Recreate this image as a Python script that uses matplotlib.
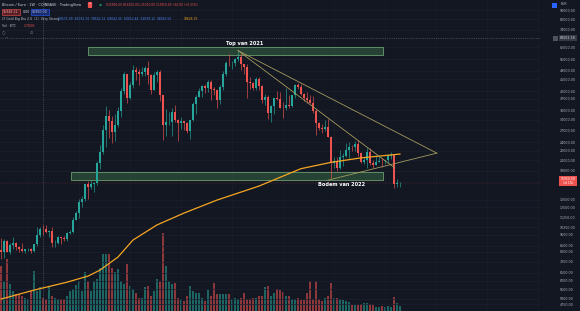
import matplotlib
matplotlib.use('Agg')
import matplotlib.pyplot as plt
from matplotlib.patches import Rectangle
from matplotlib.ticker import NullLocator
import numpy as np

BG = '#131722'
UP = '#26a69a'
DOWN = '#ef5350'

# weekly BTC/EUR candles, week of 4 May 2020 .. week of 21 Nov 2022
first_open = 8160
closes = [8000, 8880, 8000, 8590, 8710, 8370, 8230, 8040, 8210, 8230,
          8070, 8630, 9440, 10080, 10040, 9800, 9840, 8710, 8750, 9250,
          9180, 9120, 9640, 9750, 11040, 11790, 13120, 13600, 15710, 15270,
          15830, 15930, 19510, 21640, 27050, 31310, 29750, 26690, 28350, 32670,
          40170, 47520, 37270, 42670, 49580, 48400, 47290, 48310, 50420, 46920,
          40500, 47110, 48180, 38350, 28440, 29260, 29340, 32310, 29830, 29160,
          29660, 28980, 26780, 30000, 35290, 37710, 40170, 42140, 41360, 43900,
          40930, 40430, 36580, 41550, 47330, 53100, 52840, 52840, 55170, 56000,
          52210, 50710, 43720, 43270, 41330, 44960, 42210, 36750, 37810, 32120,
          34380, 37190, 37020, 33890, 33660, 34910, 34360, 38360, 42550, 41800,
          38720, 37410, 36570, 35570, 32670, 28940, 27740, 27480, 27940, 25330,
          19520, 19810, 18560, 20590, 20800, 22160, 22840, 22750, 23590, 21500,
          19600, 20000, 21800, 19400, 19180, 19690, 19800, 19790, 20000, 20810,
          21110, 15830, 15900, 15950]
highs = [9220, 9130, 9040, 8730, 9310, 8840, 8500, 8750, 8260, 8360,
         8300, 8700, 10260, 10240, 10510, 10460, 9920, 10240, 8980, 9410,
         9320, 9360, 9750, 9920, 11310, 12050, 13530, 13970, 15800, 16300,
         16450, 16050, 19840, 23280, 28520, 34340, 33060, 31240, 31820, 34080,
         41070, 48260, 47520, 43830, 51930, 50920, 49660, 51020, 51430, 54000,
         47520, 48350, 49170, 49260, 38500, 33520, 32380, 33800, 34710, 30250,
         30760, 29750, 29300, 30000, 35800, 38390, 41110, 42480, 42800, 44750,
         44830, 41710, 40430, 42410, 48790, 54220, 57760, 54310, 55430, 60000,
         58670, 52480, 52300, 45930, 43810, 45930, 46110, 42600, 39040, 38500,
         34730, 37370, 40180, 39650, 35710, 41270, 38640, 38450, 42820, 43420,
         43120, 39260, 39720, 38490, 38100, 33270, 29340, 28690, 30090, 30100,
         25620, 20660, 20670, 22180, 21600, 23730, 24120, 23240, 24370, 24400,
         21800, 20710, 22700, 22700, 20100, 20820, 20920, 20520, 20100, 21210,
         21720, 21200, 16600, 16150]
lows = [7430, 7520, 7980, 7850, 8270, 8140, 8000, 7960, 7880, 8050,
        7940, 7960, 8460, 9320, 9490, 9660, 9330, 8390, 8390, 8640,
        8680, 8890, 8920, 9530, 9660, 11030, 11190, 12540, 13280, 13610,
        15040, 14550, 15570, 18360, 21390, 22950, 25120, 23880, 24210, 27830,
        30910, 38840, 35540, 36800, 41430, 44790, 42710, 46530, 46640, 43000,
        38930, 40330, 43800, 36200, 24590, 25490, 28500, 25620, 29240, 24200,
        27480, 27200, 26270, 24830, 29580, 31860, 37520, 37860, 39320, 39490,
        36440, 38290, 33850, 35170, 40520, 46470, 51380, 49830, 51210, 54170,
        49200, 47350, 37170, 40710, 40350, 40270, 40440, 35610, 34740, 30180,
        29380, 31840, 36580, 33630, 30630, 33000, 33820, 34180, 37180, 40720,
        38350, 36300, 35650, 35470, 32100, 25670, 26980, 26170, 26800, 25330,
        16760, 18580, 17980, 18300, 18900, 20590, 20390, 22060, 22040, 20800,
        19500, 19300, 18500, 19000, 18470, 19180, 19590, 18760, 19290, 19390,
        20250, 15150, 15340, 15300]
# weekly volume, thousand BTC
volume = [15.0, 10.0, 17.2, 8.9, 6.7, 5.6, 5.6, 5.0, 4.4, 3.9,
          6.7, 13.3, 6.7, 7.8, 4.4, 4.0, 8.3, 5.0, 4.4, 3.9,
          3.9, 3.9, 5.0, 6.7, 7.2, 8.5, 10.0, 6.7, 12.8, 10.0,
          6.7, 10.0, 10.6, 14.4, 18.9, 19.0, 18.9, 14.4, 12.8, 13.9,
          10.0, 9.0, 15.6, 8.3, 7.2, 6.0, 4.4, 4.4, 7.8, 8.3,
          5.0, 6.7, 10.6, 10.0, 25.9, 15.0, 10.0, 8.9, 9.4, 4.4,
          3.9, 3.3, 5.0, 8.3, 6.7, 6.1, 6.1, 4.4, 3.3, 6.9,
          5.0, 9.4, 5.6, 5.6, 5.6, 5.6, 5.6, 3.9, 4.2, 3.9,
          4.4, 5.8, 3.9, 3.9, 4.4, 4.4, 5.0, 5.0, 8.0, 8.3,
          5.0, 5.8, 7.2, 6.9, 6.4, 5.0, 5.0, 3.9, 3.9, 4.2,
          3.6, 3.8, 5.9, 10.0, 3.9, 10.0, 3.9, 3.3, 4.4, 5.0,
          9.4, 4.4, 4.2, 3.9, 3.6, 3.3, 3.0, 2.0, 2.0, 2.0,
          2.2, 2.7, 2.8, 2.4, 2.0, 1.3, 1.3, 1.7, 1.3, 1.5,
          1.3, 4.7, 2.8, 1.7]

# 200 week moving average, read at a few weeks
ma_week = [0, 11, 22, 29, 33, 39, 44, 52, 61, 72, 86, 100, 110, 120, 133]
ma_value = [4990, 5460, 5910, 6280, 6670, 7600, 9010, 10480, 11800, 13440,
            15460, 18400, 19600, 20500, 21300]

# drawings (week index, price)
trend_a = ([79, 145.3], [60000, 21500])
trend_b = ([79, 131.3], [60000, 18530])
trend_c = ([109, 145.3], [16400, 21500])
top_zone = (29, 127.3, 57400, 62200)
bottom_zone = (23.3, 127.3, 16400, 17800)

price_ticks = [90000, 82000, 74000, 62000, 55000, 49000, 45000, 40000, 37000,
               33000, 30000, 27000, 24000, 22000, 20000, 18000, 13500,
               12500, 11250, 10250, 9500, 8500, 8000, 7250, 6500, 6000, 5500,
               5000, 4750]
cross_price = 68061.38
cross_week = 14

opens = [first_open] + closes[:-1]
x = np.arange(len(closes))
o = np.array(opens, float)
c = np.array(closes, float)
colors = [UP if cc >= oo else DOWN for oo, cc in zip(o, c)]

W, H = 580, 311
fig = plt.figure(figsize=(5.8, 3.11), dpi=100, facecolor=BG)
pos = [0, 0, 540 / W, 1]
xlim = (-0.33, 179.7)

axv = fig.add_axes(pos)
axv.set_facecolor(BG)
axv.bar(x, volume, width=0.8, color=colors, alpha=0.55, linewidth=0)
axv.set_xlim(xlim)
axv.set_ylim(0, 103)
axv.set_xticks([])
axv.set_yticks([])
for s in axv.spines.values():
    s.set_visible(False)

ax = fig.add_axes(pos)
ax.patch.set_alpha(0)
ax.set_yscale('log')
ax.set_xlim(xlim)
ax.set_ylim(4430, 99500)
for s in ax.spines.values():
    s.set_visible(False)

# grid
for t in price_ticks:
    ax.axhline(t, color='#1c2030', lw=0.5, zorder=0)
for xi in range(9, 180, 17):
    ax.axvline(xi, color='#1a1e2a', lw=0.5, zorder=0)

# candles
ax.vlines(x, lows, highs, colors=colors, lw=0.45, zorder=3)
body = np.maximum(np.abs(c - o), 0.004 * c)
ax.bar(x, body, bottom=np.minimum(o, c), width=0.62, color=colors,
       linewidth=0, zorder=4)

ax.plot(ma_week, ma_value, color='#f5a623', lw=0.9, zorder=5)

for x0, x1, y0, y1 in [top_zone, bottom_zone]:
    ax.add_patch(Rectangle((x0, y0), x1 - x0, y1 - y0, facecolor=(0.30, 0.62, 0.36, 0.32),
                           edgecolor='#6b9e6e', lw=0.6, zorder=2))

for tx, ty in [trend_a, trend_b, trend_c]:
    ax.plot(tx, ty, color='#a39a5e', lw=0.6, zorder=6)

ax.text(81.3, 64700, 'Top van 2021', color='white', fontsize=3.6,
        fontweight='bold', ha='center', va='center', zorder=7)
ax.text(113.7, 15770, 'Bodem van 2022', color='white', fontsize=3.6,
        fontweight='bold', ha='center', va='center', zorder=7)

# crosshair + last price line
ax.axhline(cross_price, color='#6a6d78', lw=0.4, ls=(0, (2, 2)), zorder=1)
ax.axvline(cross_week, color='#6a6d78', lw=0.4, ls=(0, (2, 2)), zorder=1)
ax.axhline(closes[-1], color=DOWN, lw=0.35, ls=(0, (1, 2)), alpha=0.6, zorder=1)

# price scale
ax.yaxis.tick_right()
ax.yaxis.set_minor_locator(NullLocator())
ax.set_yticks(price_ticks)
ax.set_yticklabels(['%.2f' % t for t in price_ticks])
ax.tick_params(axis='y', length=0, pad=14.4, labelsize=2.3, colors='#b2b5be')
ax.set_xticks([])


def fx(px):
    return px / W


def fy(py):
    return 1 - py / H


fig.patches.append(Rectangle((fx(552), fy(8)), 5 / W, 5 / H, transform=fig.transFigure,
                             facecolor='#2962ff', edgecolor='none'))
fig.text(fx(561), fy(4), 'EUR', color='#b2b5be', fontsize=2.3, va='center')
fig.patches.append(Rectangle((fx(553), fy(41)), 5 / W, 5 / H, transform=fig.transFigure,
                             facecolor='#4c525e', edgecolor='none'))
fig.text(fx(568), fy(38), '%.2f' % cross_price, color='#d1d4dc', fontsize=2.3,
         ha='center', va='center',
         bbox=dict(boxstyle='square,pad=0.35', fc='#363a45', ec='none'))
fig.text(fx(568), fy(181), '%.2f\n1d 11h' % closes[-1], color='white', fontsize=2.2,
         ha='center', va='center', linespacing=1.1,
         bbox=dict(boxstyle='square,pad=0.35', fc=DOWN, ec='none'))

# legend at top left
chg = closes[-1] - opens[-1]
fig.text(fx(2), fy(5), 'Bitcoin / Euro · 1W · COINBASE · TradingView', color='#d1d4dc',
         fontsize=2.5, va='center')
fig.text(fx(90), fy(5), '•', color='white', fontsize=2.5, va='center', ha='center',
         bbox=dict(boxstyle='round,pad=0.3', fc=DOWN, ec='none'))
fig.text(fx(100), fy(5), '●', color='#1e8a5a', fontsize=2.5, va='center', ha='center')
fig.text(fx(106), fy(5), 'O%.2f H%.2f L%.2f C%.2f %+.2f (%+.2f%%)' % (
    opens[-1], highs[-1], lows[-1], closes[-1], chg, 100 * chg / opens[-1]),
    color=DOWN, fontsize=2.1, va='center')
fig.text(fx(3), fy(12), '15948.21', color='#f0a0a0', fontsize=2.3, va='center',
         bbox=dict(boxstyle='square,pad=0.4', fc='#5a1f27', ec=DOWN, lw=0.4))
fig.text(fx(23), fy(12), '0.00', color='#d1d4dc', fontsize=2.3, va='center')
fig.text(fx(32), fy(12), '15950.00', color='#b0c4ff', fontsize=2.3, va='center',
         bbox=dict(boxstyle='square,pad=0.4', fc='#1b2c6b', ec='#2962ff', lw=0.4))
fig.text(fx(2), fy(19), 'LT Gold Big Bro 2.0  (1)  Very Strong', color='#b2b5be',
         fontsize=2.3, va='center')
fig.text(fx(58), fy(19), '89571.99  85032.74  78542.12  69042.35  60012.44  '
         '52039.12  48032.55', color='#4f86f7', fontsize=2.2, va='center')
fig.text(fx(184), fy(19), '18626.35', color='#f5a623', fontsize=2.2, va='center')
fig.text(fx(2), fy(26), 'Vol · BTC', color='#b2b5be', fontsize=2.3, va='center')
fig.text(fx(24), fy(26), '%.3fK' % volume[-1], color=DOWN, fontsize=2.3, va='center')
fig.text(fx(4), fy(33), '○', color='#787b86', fontsize=3, va='center', ha='center')
fig.text(fx(31), fy(33), '⊙', color='#787b86', fontsize=3, va='center', ha='center')
fig.text(fx(6), fy(39), '^', color='#787b86', fontsize=3, va='center', ha='center')

fig.savefig('out.png', dpi=100, facecolor=BG)
